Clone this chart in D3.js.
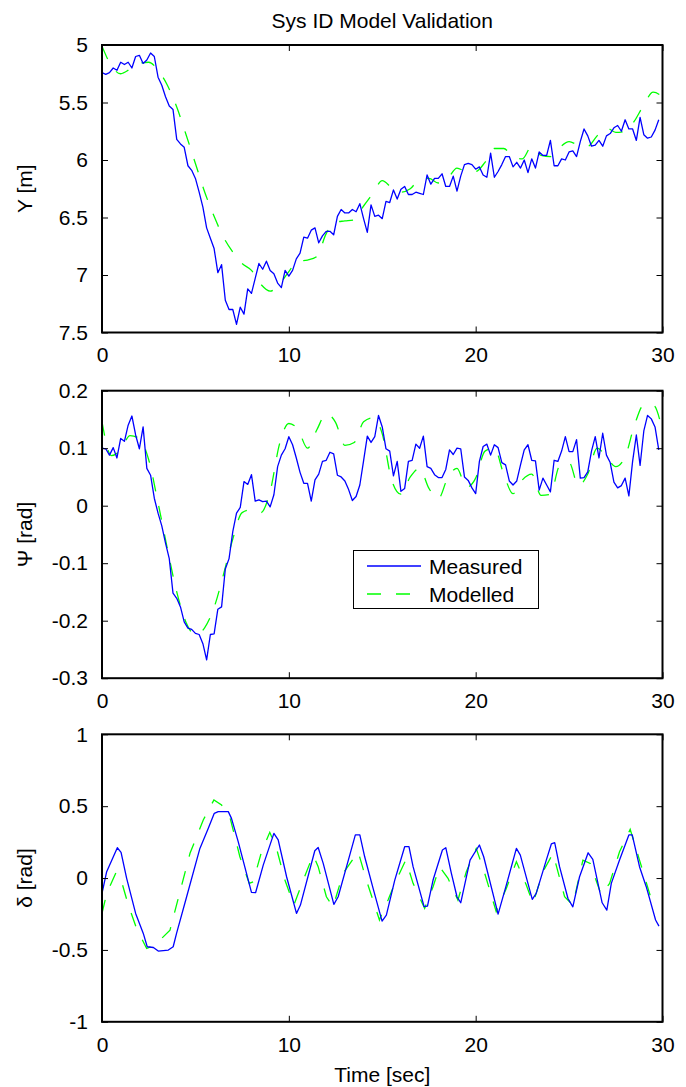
<!DOCTYPE html>
<html>
<head>
<meta charset="utf-8">
<script src="https://cdn.jsdelivr.net/npm/d3@7"></script>
<style>
  html, body { margin: 0; padding: 0; background: #fff; }
  svg { display: block; font-family: "Liberation Sans", Arial, Helvetica, sans-serif; }
</style>
</head>
<body>
<svg id="chart" width="686" height="1087"></svg>
<script>
// ---- Data ---------------------------------------------------------------
// Time axis
const timeDomain = [0, 30];
const timeTicks = [0, 10, 20, 30];

// Measured samples are logged every 0.2 s, model output every 0.5 s
const measuredStep = 0.2;
const modelStep = 0.5;

// Lateral position Y [m]
const yMeasured = [
  5.24, 5.255, 5.24, 5.20, 5.22, 5.15, 5.17, 5.15, 5.20, 5.10,
  5.09, 5.16, 5.13, 5.07, 5.10, 5.28, 5.35, 5.45, 5.53, 5.56,
  5.82, 5.86, 5.89, 6.05, 6.09, 6.16, 6.28, 6.41, 6.59, 6.68,
  6.77, 6.98, 6.91, 7.22, 7.30, 7.30, 7.43, 7.28, 7.34, 7.12,
  7.16, 7.03, 6.90, 6.95, 6.88, 6.96, 6.99, 7.07, 7.11, 6.96,
  7.01, 6.96, 6.86, 6.81, 6.67, 6.68, 6.61, 6.59, 6.72, 6.66,
  6.62, 6.62, 6.65, 6.49, 6.43, 6.46, 6.46, 6.43, 6.45, 6.38,
  6.51, 6.63, 6.39, 6.49, 6.48, 6.51, 6.36, 6.37, 6.26, 6.34,
  6.255, 6.23, 6.30, 6.30, 6.28, 6.29, 6.30, 6.13, 6.21, 6.16,
  6.16, 6.12, 6.23, 6.23, 6.14, 6.27, 6.14, 6.04, 6.03, 6.04,
  6.08, 6.06, 6.13, 6.15, 5.94, 6.15, 6.10, 6.04, 5.97, 5.97,
  6.06, 6.02, 6.07, 6.00, 6.11, 5.99, 6.07, 5.93, 5.96, 5.96,
  5.83, 6.05, 6.05, 5.99, 6.00, 5.93, 5.92, 5.97, 5.84, 5.73,
  5.79, 5.88, 5.87, 5.83, 5.88, 5.79, 5.77, 5.72, 5.70, 5.75,
  5.65, 5.73, 5.73, 5.83, 5.63, 5.78, 5.81, 5.80, 5.74, 5.65
];
const yModelled = [
  5.01, 5.18, 5.25, 5.21, 5.16, 5.15, 5.22, 5.35, 5.54, 5.78,
  6.03, 6.28, 6.49, 6.67, 6.80, 6.90, 6.96, 7.08, 7.14, 7.08,
  6.97, 6.88, 6.87, 6.84, 6.64, 6.54, 6.53, 6.52, 6.40, 6.29,
  6.18, 6.24, 6.28, 6.25, 6.17, 6.16, 6.20, 6.16, 6.07, 6.10,
  6.10, 6.02, 5.90, 5.90, 5.97, 5.99, 5.88, 5.96, 5.97, 5.89,
  5.84, 5.87, 5.88, 5.79, 5.72, 5.76, 5.75, 5.66, 5.52, 5.41,
  5.45
];
const yTicks = [5, 5.5, 6, 6.5, 7, 7.5];

// Heading Ψ [rad]
const psiMeasured = [
  0.100, 0.099, 0.088, 0.101, 0.083, 0.117, 0.112, 0.140, 0.156, 0.123,
  0.099, 0.137, 0.065, 0.053, 0.013, -0.013, -0.035, -0.065, -0.092, -0.152,
  -0.161, -0.176, -0.202, -0.213, -0.215, -0.222, -0.224, -0.240, -0.268, -0.224,
  -0.223, -0.180, -0.176, -0.110, -0.092, -0.045, -0.013, -0.003, 0.042, 0.037,
  0.054, 0.008, 0.010, 0.007, 0.008, -0.002, 0.019, 0.068, 0.088, 0.099,
  0.120, 0.106, 0.083, 0.058, 0.039, 0.039, 0.008, 0.045, 0.055, 0.077,
  0.079, 0.093, 0.090, 0.053, 0.050, 0.043, 0.028, 0.009, 0.016, 0.036,
  0.078, 0.121, 0.110, 0.120, 0.157, 0.137, 0.099, 0.095, 0.052, 0.077,
  0.025, 0.030, 0.077, 0.079, 0.107, 0.100, 0.121, 0.068, 0.065, 0.054,
  0.049, 0.049, 0.063, 0.097, 0.089, 0.100, 0.099, 0.050, 0.044, 0.031,
  0.021, 0.077, 0.103, 0.107, 0.088, 0.106, 0.101, 0.075, 0.071, 0.043,
  0.036, 0.043, 0.071, 0.097, 0.106, 0.079, 0.078, 0.027, 0.048, 0.036,
  0.024, 0.079, 0.077, 0.095, 0.120, 0.094, 0.094, 0.115, 0.048, 0.049,
  0.059, 0.095, 0.120, 0.083, 0.126, 0.088, 0.075, 0.041, 0.031, 0.035,
  0.048, 0.017, 0.077, 0.123, 0.070, 0.130, 0.157, 0.151, 0.137, 0.097
];
const psiModelled = [
  0.146, 0.087, 0.097, 0.122, 0.117, 0.080, 0.005, -0.075, -0.150, -0.203,
  -0.225, -0.212, -0.177, -0.120, -0.058, -0.012, -0.007, -0.012, 0.025, 0.107,
  0.143, 0.132, 0.100, 0.132, 0.160, 0.145, 0.105, 0.110, 0.146, 0.153,
  0.125, 0.045, 0.020, 0.050, 0.065, 0.030, 0.012, 0.048, 0.065, 0.032,
  0.048, 0.095, 0.100, 0.055, 0.021, 0.045, 0.055, 0.018, 0.020, 0.070,
  0.075, 0.035, 0.055, 0.100, 0.085, 0.068, 0.085, 0.140, 0.175, 0.175,
  0.130
];
const psiTicks = [0.2, 0.1, 0, -0.1, -0.2, -0.3];

// Steering angle δ [rad] (piecewise signal, stored as vertices)
const deltaMeasuredTime = [
  0, 0.25, 0.82, 1.02, 1.32, 1.8, 2.21, 2.42, 2.75, 3.01, 3.55, 3.81, 3.99, 4.53,
  5.24, 5.69, 6.01, 6.22, 6.76, 6.93, 7.29, 8.0, 8.22, 8.63, 9.2, 9.43, 9.88,
  10.41, 10.62, 11.39, 11.57, 11.84, 12.41, 12.64, 13.26, 13.56, 13.8, 14.06,
  14.51, 14.99, 15.22, 15.67, 16.2, 16.43, 16.65, 17.24, 17.42, 17.72, 18.22,
  18.4, 18.7, 19.0, 19.2, 19.7, 20.2, 20.43, 21.2, 21.64, 22.18, 22.39, 23.03,
  23.24, 23.78, 24.05, 24.23, 24.49, 24.94, 25.2, 25.56, 26.02, 26.27, 26.77,
  27.02, 27.26, 27.7, 28.2, 28.38, 28.77, 29.13, 29.63, 29.81
];
const deltaMeasured = [
  -0.107, 0.044, 0.211, 0.179, -0.002, -0.246, -0.385, -0.478, -0.483, -0.508,
  -0.501, -0.478, -0.385, -0.130, 0.206, 0.346, 0.450, 0.462, 0.462, 0.415,
  0.253, -0.100, -0.102, 0.090, 0.311, 0.265, 0.009, -0.246, -0.188, 0.190,
  0.213, 0.102, -0.183, -0.130, 0.160, 0.300, 0.300, 0.148, -0.072, -0.300,
  -0.258, -0.014, 0.218, 0.218, 0.079, -0.199, -0.195, -0.014, 0.195, 0.211,
  0.032, -0.130, -0.172, 0.125, 0.230, 0.148, -0.251, -0.049, 0.206, 0.160,
  -0.148, -0.107, 0.125, 0.237, 0.246, 0.079, -0.142, -0.200, 0.009, 0.176,
  0.130, -0.172, -0.223, -0.037, 0.125, 0.300, 0.300, 0.079, -0.060, -0.292,
  -0.334
];
const deltaModelledTime = [
  0, 0.25, 0.75, 1.05, 1.41, 1.85, 2.39, 2.83, 3.19, 3.64, 4.08, 4.71, 5.42,
  5.99, 6.4, 6.84, 7.38, 7.88, 8.09, 8.54, 8.98, 9.34, 9.79, 10.27, 10.77, 11.3,
  11.57, 12.01, 12.37, 12.9, 13.71, 14.15, 14.85, 15.04, 15.31, 15.67, 16.26,
  16.65, 17.27, 17.72, 18.07, 18.52, 19.05, 19.5, 20.03, 20.43, 21.1, 21.64,
  22.18, 22.71, 23.07, 23.6, 24.14, 24.76, 25.2, 25.74, 26.13, 26.72, 27.17,
  27.7, 28.27, 28.77, 29.39, 29.81
];
const deltaModelled = [
  -0.246, -0.107, 0.039, -0.026, -0.188, -0.350, -0.490, -0.466, -0.420, -0.362,
  -0.142, 0.172, 0.404, 0.543, 0.508, 0.427, 0.148, -0.037, -0.026, 0.183,
  0.318, 0.206, -0.014, -0.188, -0.014, 0.160, 0.079, -0.130, -0.200, 0.032,
  0.183, -0.014, -0.292, -0.230, -0.153, -0.037, 0.125, -0.037, -0.211, -0.060,
  0.079, -0.002, -0.153, 0.044, 0.206, 0.056, -0.234, -0.072, 0.114, -0.049,
  -0.176, 0.044, 0.172, -0.130, -0.188, 0.125, 0.102, -0.118, -0.037, 0.183,
  0.339, 0.125, -0.142, -0.142
];
const deltaTicks = [1, 0.5, 0, -0.5, -1];

const seriesNames = ["Measured", "Modelled"];

// ---- Layout -------------------------------------------------------------
const plotLeft = 102, plotRight = 662.5;
const panelTops = [45, 390.7, 734.3];
const panelHeight = 287.5;
const measuredColor = "#0000ff";
const modelledColor = "#00ff00";
const dashPattern = "14,15";
const fontSize = 21;

const svg = d3.select("#chart");
const x = d3.scaleLinear().domain(timeDomain).range([plotLeft, plotRight]);

const stepped = (vals, step) => vals.map((v, i) => ({ t: i * step, v }));
const paired = (ts, vs) => ts.map((t, i) => ({ t, v: vs[i] }));
// plain ASCII hyphen for negative tick labels
const plainFormat = d => String(d);

const panels = [
  {
    label: "Y [m]", domain: [7.5, 5], ticks: yTicks,
    measured: stepped(yMeasured, measuredStep),
    modelled: stepped(yModelled, modelStep), smooth: true
  },
  {
    label: "\u03A8 [rad]", domain: [-0.3, 0.2], ticks: psiTicks,
    measured: stepped(psiMeasured, measuredStep),
    modelled: stepped(psiModelled, modelStep), smooth: true, legend: true
  },
  {
    label: "\u03B4 [rad]", domain: [-1, 1], ticks: deltaTicks,
    measured: paired(deltaMeasuredTime, deltaMeasured),
    modelled: paired(deltaModelledTime, deltaModelled), smooth: false
  }
];

panels.forEach((p, i) => {
  const top = panelTops[i], bottom = top + panelHeight;
  const y = d3.scaleLinear().domain(p.domain).range([bottom, top]);
  const g = svg.append("g");

  // clip to plot area
  const clipId = "clip" + i;
  svg.append("clipPath").attr("id", clipId)
    .append("rect").attr("x", plotLeft).attr("y", top)
    .attr("width", plotRight - plotLeft).attr("height", panelHeight);

  const lineMeas = d3.line().x(d => x(d.t)).y(d => y(d.v));
  const lineModel = d3.line().x(d => x(d.t)).y(d => y(d.v))
    .curve(p.smooth ? d3.curveMonotoneX : d3.curveLinear);

  const lines = g.append("g").attr("clip-path", `url(#${clipId})`);
  lines.append("path").datum(p.modelled)
    .attr("d", lineModel).attr("fill", "none")
    .attr("stroke", modelledColor).attr("stroke-width", 1.3)
    .attr("stroke-dasharray", dashPattern);
  lines.append("path").datum(p.measured)
    .attr("d", lineMeas).attr("fill", "none")
    .attr("stroke", measuredColor).attr("stroke-width", 1.3)
    .attr("stroke-linejoin", "round");

  // axes: inward ticks on all four sides, labels on left and bottom
  const left = d3.axisLeft(y).tickValues(p.ticks).tickFormat(plainFormat)
    .tickSizeInner(-6).tickSizeOuter(0).tickPadding(14);
  const right = d3.axisRight(y).tickValues(p.ticks).tickFormat("")
    .tickSizeInner(-6).tickSizeOuter(0);
  const bottomAx = d3.axisBottom(x).tickValues(timeTicks).tickFormat(plainFormat)
    .tickSizeInner(-6).tickSizeOuter(0).tickPadding(15);
  const topAx = d3.axisTop(x).tickValues(timeTicks).tickFormat("")
    .tickSizeInner(-6).tickSizeOuter(0);

  const axes = [
    g.append("g").attr("transform", `translate(${plotLeft},0)`).call(left),
    g.append("g").attr("transform", `translate(${plotRight},0)`).call(right),
    g.append("g").attr("transform", `translate(0,${bottom})`).call(bottomAx),
    g.append("g").attr("transform", `translate(0,${top})`).call(topAx)
  ];
  axes.forEach(a => {
    a.select(".domain").remove();
    a.selectAll(".tick line").attr("stroke", "#000").attr("stroke-width", 1);
    a.selectAll(".tick text").attr("fill", "#000")
      .style("font-size", fontSize + "px")
      .style("font-family", '"Liberation Sans", Arial, sans-serif');
  });

  // frame
  g.append("rect").attr("x", plotLeft).attr("y", top)
    .attr("width", plotRight - plotLeft).attr("height", panelHeight)
    .attr("fill", "none").attr("stroke", "#000").attr("stroke-width", 2);

  // y-axis label
  g.append("text")
    .attr("transform", `translate(32,${top + panelHeight / 2}) rotate(-90)`)
    .attr("text-anchor", "middle").style("font-size", fontSize + "px")
    .text(p.label);

  if (p.legend) {
    const lg = g.append("g");
    lg.append("rect").attr("x", 353.5).attr("y", 550.5)
      .attr("width", 185).attr("height", 58)
      .attr("fill", "#fff").attr("stroke", "#000").attr("stroke-width", 1);
    const rows = [
      { name: seriesNames[0], color: measuredColor, dash: null, y: 566 },
      { name: seriesNames[1], color: modelledColor, dash: dashPattern, y: 594 }
    ];
    rows.forEach(r => {
      lg.append("line").attr("x1", 367).attr("x2", 421)
        .attr("y1", r.y).attr("y2", r.y)
        .attr("stroke", r.color).attr("stroke-width", 1.3)
        .attr("stroke-dasharray", r.dash);
      lg.append("text").attr("x", 429).attr("y", r.y + 7.5)
        .style("font-size", fontSize + "px").text(r.name);
    });
  }
});

// title and x-axis label
svg.append("text").attr("x", (plotLeft + plotRight) / 2).attr("y", 28)
  .attr("text-anchor", "middle").style("font-size", fontSize + "px")
  .text("Sys ID Model Validation");
svg.append("text").attr("x", (plotLeft + plotRight) / 2).attr("y", 1082)
  .attr("text-anchor", "middle").style("font-size", fontSize + "px")
  .text("Time [sec]");
</script>
</body>
</html>
